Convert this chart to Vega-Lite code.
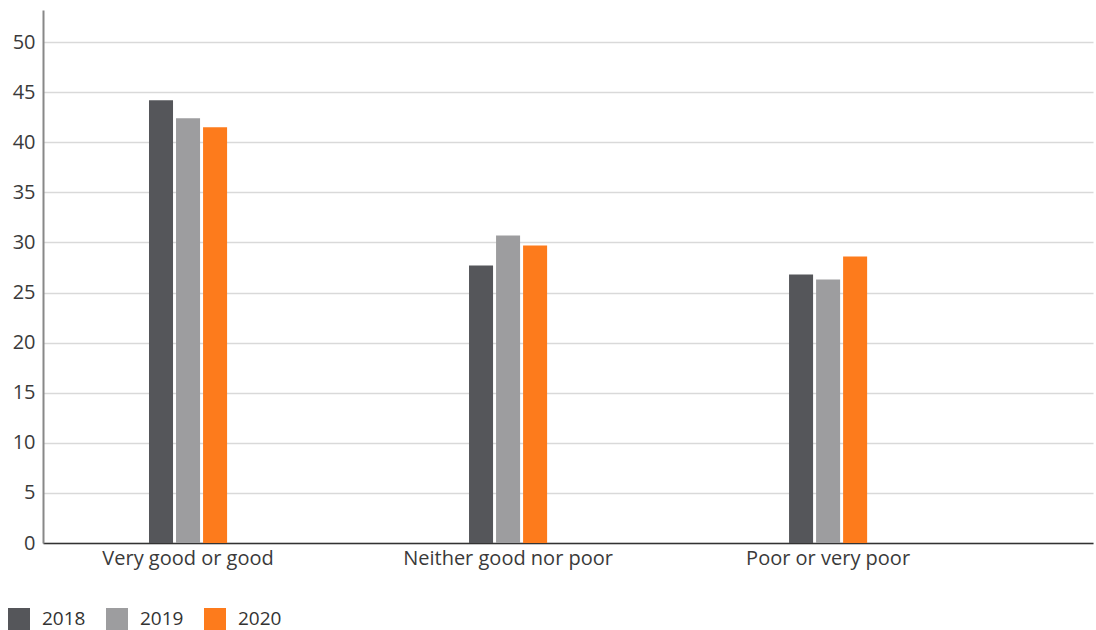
{
  "$schema": "https://vega.github.io/schema/vega-lite/v6.json",
  "width": 1050,
  "height": 533,
  "autosize": {"type": "none"},
  "padding": {"left": 43, "top": 10, "right": 3, "bottom": 87},
  "background": "white",
  "config": {
    "view": {"stroke": null},
    "font": "Open Sans",
    "axis": {"labelFont": "Open Sans", "labelColor": "#3a3a3a", "labelFontSize": 20, "labelLimit": 400}
  },
  "data": {
    "values": [
      {"category": "Very good or good", "year": "2018", "value": 44.2},
      {"category": "Very good or good", "year": "2019", "value": 42.4},
      {"category": "Very good or good", "year": "2020", "value": 41.5},
      {"category": "Neither good nor poor", "year": "2018", "value": 27.7},
      {"category": "Neither good nor poor", "year": "2019", "value": 30.7},
      {"category": "Neither good nor poor", "year": "2020", "value": 29.7},
      {"category": "Poor or very poor", "year": "2018", "value": 26.8},
      {"category": "Poor or very poor", "year": "2019", "value": 26.3},
      {"category": "Poor or very poor", "year": "2020", "value": 28.6}
    ]
  },
  "mark": {"type": "bar"},
  "encoding": {
    "x": {
      "field": "category",
      "type": "nominal",
      "sort": null,
      "title": null,
      "scale": {"paddingInner": 0.756, "paddingOuter": 0.5185, "align": 0.3194},
      "axis": {
        "labelAngle": 0,
        "ticks": false,
        "domainColor": "#333333",
        "domainWidth": 1.5,
        "labelPadding": 5,
        "grid": false
      }
    },
    "xOffset": {
      "field": "year",
      "type": "nominal",
      "scale": {"paddingInner": 0.111, "paddingOuter": 0}
    },
    "y": {
      "field": "value",
      "type": "quantitative",
      "title": null,
      "scale": {"domain": [0, 53.2], "nice": false},
      "axis": {
        "values": [0, 5, 10, 15, 20, 25, 30, 35, 40, 45, 50],
        "ticks": false,
        "domainColor": "#888888",
        "domainWidth": 2,
        "gridColor": "#d9d9d9",
        "gridWidth": 1.5,
        "labelPadding": 8
      }
    },
    "color": {
      "field": "year",
      "type": "nominal",
      "scale": {"domain": ["2018", "2019", "2020"], "range": ["#55565a", "#9d9d9f", "#fd7b1c"]},
      "legend": {
        "title": null,
        "orient": "none",
        "direction": "horizontal",
        "legendX": -35,
        "legendY": 598,
        "symbolType": "square",
        "symbolSize": 484,
        "symbolStrokeWidth": 0,
        "symbolOpacity": 1,
        "labelFontSize": 19,
        "labelColor": "#333333",
        "labelFont": "Open Sans",
        "labelOffset": 12,
        "columnPadding": 20
      }
    }
  }
}
